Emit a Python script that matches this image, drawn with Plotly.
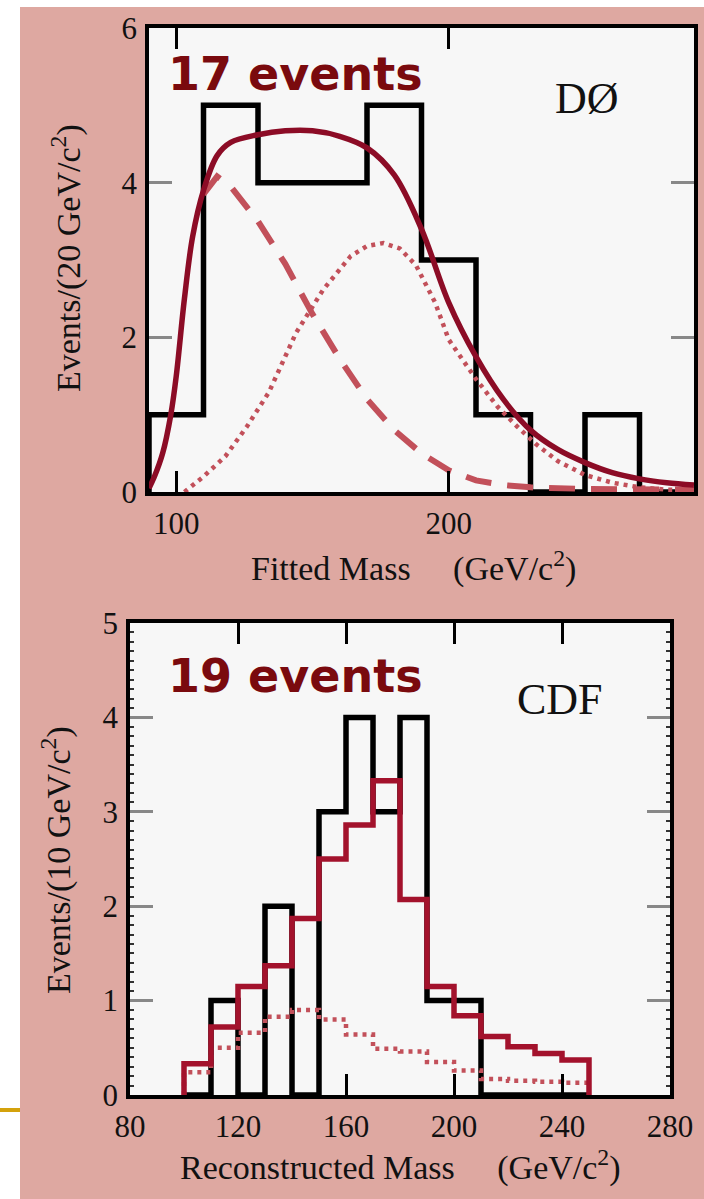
import plotly.graph_objects as go

W, H = 704, 1199

# ---------------- DØ panel data ----------------
d0_edges = [90, 110, 130, 150, 170, 190, 210, 230, 250, 270, 290]
d0_counts = [1, 5, 4, 4, 5, 3, 1, 0, 1, 0]

d0_total_x = [90, 92, 95, 98, 100, 103, 106, 110, 115, 120, 130, 140, 150, 160, 170, 180,
              190, 200, 210, 220, 230, 240, 250, 260, 270, 280, 290]
d0_total_y = [0.05, 0.2, 0.5, 1.0, 1.5, 2.5, 3.3, 3.9, 4.35, 4.52, 4.62, 4.67, 4.67, 4.6, 4.45, 4.1,
              3.4, 2.45, 1.75, 1.2, 0.8, 0.55, 0.38, 0.25, 0.17, 0.12, 0.09]

d0_bkg_x = [110, 115, 120, 130, 140, 150, 160, 170, 180, 190, 200, 210, 220, 230, 250, 270, 290]
d0_bkg_y = [3.85, 4.08, 3.95, 3.5, 2.95, 2.3, 1.72, 1.2, 0.8, 0.5, 0.28, 0.15, 0.09, 0.06, 0.04, 0.03, 0.03]

d0_sig_x = [103, 110, 118, 126, 134, 144, 154, 164, 170, 176, 182, 188, 195, 200, 210, 218, 225,
            232, 240, 250, 260, 270, 280, 290]
d0_sig_y = [0.0, 0.2, 0.46, 0.85, 1.29, 2.06, 2.62, 3.05, 3.18, 3.22, 3.15, 2.93, 2.45, 1.97, 1.46, 1.1, 0.85,
            0.62, 0.4, 0.22, 0.12, 0.06, 0.03, 0.02]

# ---------------- CDF panel data ----------------
cdf_edges = [100, 110, 120, 130, 140, 150, 160, 170, 180, 190, 200, 210, 220, 230, 240, 250]
cdf_data = [0, 1, 0, 2, 0, 3, 4, 3, 4, 1, 1, 0, 0, 0, 0]
cdf_total = [0.33, 0.72, 1.15, 1.37, 1.87, 2.5, 2.86, 3.33, 2.07, 1.15, 0.84, 0.62, 0.51, 0.44, 0.37]
cdf_bkg = [0.24, 0.5, 0.66, 0.83, 0.9, 0.8, 0.64, 0.49, 0.46, 0.35, 0.26, 0.17, 0.15, 0.14, 0.13]

d0_xticks = [100, 200]
d0_yticks = [0, 2, 4, 6]
cdf_xticks = [80, 120, 160, 200, 240, 280]
cdf_yticks = [0, 1, 2, 3, 4, 5]

PINK = "#dea8a1"
PLOTBG = "#f7f7f7"
DARKRED = "#8c0c26"
LIGHTRED = "#c2505a"
TEXTRED = "#7a0a0e"
SERIF = "Liberation Serif, Times New Roman, serif"
BOLDSANS = "DejaVu Sans, Verdana, sans-serif"


def step_xy(edges, counts):
    xs = [edges[0]] + list(edges)
    ys = [0] + list(counts) + [counts[-1]]
    return xs, ys


fig = go.Figure()

# DØ traces
x, y = step_xy(d0_edges, d0_counts)
fig.add_trace(go.Scatter(x=x, y=y, mode="lines", line=dict(color="black", width=5.5, shape="hv"),
                         xaxis="x", yaxis="y", showlegend=False))
fig.add_trace(go.Scatter(x=d0_sig_x, y=d0_sig_y, mode="lines", line=dict(color=LIGHTRED, width=4.5, dash="4px,5px"),
                         xaxis="x", yaxis="y", showlegend=False))
fig.add_trace(go.Scatter(x=d0_bkg_x, y=d0_bkg_y, mode="lines", line=dict(color=LIGHTRED, width=6, dash="26px,16px"),
                         xaxis="x", yaxis="y", showlegend=False))
fig.add_trace(go.Scatter(x=d0_total_x, y=d0_total_y, mode="lines", line=dict(color=DARKRED, width=5.5, shape="spline"),
                         xaxis="x", yaxis="y", showlegend=False))

# CDF traces
x, y = step_xy(cdf_edges, cdf_data)
fig.add_trace(go.Scatter(x=x, y=y, mode="lines", line=dict(color="black", width=5.5, shape="hv"),
                         xaxis="x2", yaxis="y2", showlegend=False))
x, y = step_xy(cdf_edges, cdf_bkg)
fig.add_trace(go.Scatter(x=x, y=y, mode="lines", line=dict(color=LIGHTRED, width=4.5, shape="hv", dash="4px,5px"),
                         xaxis="x2", yaxis="y2", showlegend=False))
x, y = step_xy(cdf_edges, cdf_total)
x = x + [cdf_edges[-1]]
y = y + [0]
fig.add_trace(go.Scatter(x=x, y=y, mode="lines", line=dict(color="#a3122c", width=5.5, shape="hv"),
                         xaxis="x2", yaxis="y2", showlegend=False))


def px(v):
    return v / W


def py(v):
    return 1 - v / H


tickfont = dict(family=SERIF, size=31, color="#111")
common_x = dict(showgrid=False, zeroline=False, showline=True, linecolor="black", linewidth=3.5,
                mirror="ticks", ticks="inside", ticklen=21, tickwidth=2.5, tickcolor="black",
                tickfont=tickfont, ticklabelstandoff=1, automargin=False)
common_y = dict(showgrid=False, zeroline=False, showline=True, linecolor="black", linewidth=3.5,
                mirror="ticks", ticks="inside", ticklen=23, tickwidth=3, tickcolor="#888",
                tickfont=tickfont, ticklabelstandoff=2, automargin=False)

fig.update_layout(
    width=W, height=H,
    margin=dict(l=0, r=0, t=0, b=0, pad=0, autoexpand=False),
    paper_bgcolor=PINK,
    plot_bgcolor=PLOTBG,
    xaxis=dict(domain=[px(149), px(694)], range=[90, 290], tickvals=d0_xticks, anchor="y", **common_x),
    yaxis=dict(domain=[py(492), py(28)], range=[0, 6], tickvals=d0_yticks, anchor="x", **common_y),
    xaxis2=dict(domain=[px(130), px(670)], range=[80, 280], tickvals=cdf_xticks, anchor="y2", **common_x),
    yaxis2=dict(domain=[py(1095), py(623)], range=[0, 5], tickvals=cdf_yticks, anchor="x2",
                minor=dict(ticks="inside", ticklen=4, dtick=0.1, tickcolor="#333", tickwidth=1.5),
                **common_y),
    shapes=[
        dict(type="rect", xref="paper", yref="paper", x0=0, x1=px(20), y0=0, y1=1,
             fillcolor="white", line=dict(width=0), layer="above"),
        dict(type="rect", xref="paper", yref="paper", x0=0, x1=1, y0=py(7), y1=1,
             fillcolor="white", line=dict(width=0), layer="above"),
        dict(type="line", xref="paper", yref="paper", x0=0, x1=px(20), y0=py(1110), y1=py(1110),
             line=dict(color="#d4a20c", width=4), layer="above"),
    ],
)

NB = "\u00a0"
ann = [
    dict(text="17 events", x=px(166), y=py(74), xanchor="left", yanchor="middle",
         font=dict(family=BOLDSANS, size=46, color=TEXTRED, weight="bold")),
    dict(text="DØ", x=px(587), y=py(99), xanchor="center", yanchor="middle",
         font=dict(family=SERIF, size=44, color="#111")),
    dict(text="Events/(20 GeV/c<sup>2</sup>)", x=px(67), y=py(258), xanchor="center", yanchor="middle",
         textangle=-90, font=dict(family=SERIF, size=34, color="#111")),
    dict(text="Fitted Mass" + NB * 5 + "(GeV/c<sup>2</sup>)", x=px(413), y=py(567), xanchor="center", yanchor="middle",
         font=dict(family=SERIF, size=34, color="#111")),
    dict(text="19 events", x=px(166), y=py(676), xanchor="left", yanchor="middle",
         font=dict(family=BOLDSANS, size=46, color=TEXTRED, weight="bold")),
    dict(text="CDF", x=px(560), y=py(699), xanchor="center", yanchor="middle",
         font=dict(family=SERIF, size=44, color="#111")),
    dict(text="Events/(10 GeV/c<sup>2</sup>)", x=px(56), y=py(860), xanchor="center", yanchor="middle",
         textangle=-90, font=dict(family=SERIF, size=34, color="#111")),
    dict(text="Reconstructed Mass" + NB * 5 + "(GeV/c<sup>2</sup>)", x=px(400), y=py(1165), xanchor="center", yanchor="middle",
         font=dict(family=SERIF, size=34, color="#111")),
]
for a in ann:
    a.update(xref="paper", yref="paper", showarrow=False)
fig.update_layout(annotations=ann)

fig.write_html("out.html")
